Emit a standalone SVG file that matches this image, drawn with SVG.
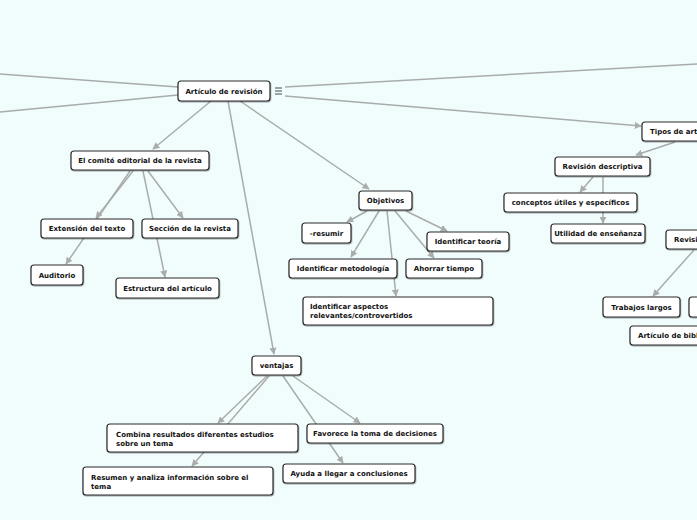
<svg xmlns="http://www.w3.org/2000/svg" width="697" height="520" viewBox="0 0 697 520">
<style>
.bg{fill:#f0fdfc}
.n rect{fill:#fff;stroke:#2a2a2a;stroke-width:1.2}
.n text{font-family:"DejaVu Sans",Verdana,sans-serif;font-size:7px;font-weight:bold;fill:#111}
.c{text-anchor:middle}
.e line{stroke:#a9acab;stroke-width:1.5;fill:none}
.e line.a{marker-end:url(#ah)}
</style>
<defs>
<marker id="ah" viewBox="0 0 10 10" refX="9" refY="5" markerWidth="7" markerHeight="7" markerUnits="userSpaceOnUse" orient="auto">
<path d="M0,0 L10,5 L0,10 z" fill="#a9acab"/>
</marker>
<filter id="sh" x="-10%" y="-20%" width="120%" height="150%">
<feDropShadow dx="0.5" dy="1" stdDeviation="0.6" flood-color="#000" flood-opacity="0.35"/>
</filter>
</defs>
<rect class="bg" x="0" y="0" width="697" height="520"/>

<g id="connectors" class="e">
<line x1="0" y1="74" x2="178" y2="87"/>
<line x1="0" y1="112" x2="178" y2="95"/>
<line x1="285" y1="87" x2="697" y2="64"/>
<line class="a" x1="285" y1="96" x2="641" y2="126"/>
<line class="a" x1="211" y1="101" x2="153" y2="149"/>
<line class="a" x1="240" y1="101" x2="369" y2="189"/>
<line class="a" x1="228" y1="101" x2="274" y2="354"/>
<line class="a" x1="133" y1="171" x2="96" y2="218"/>
<line class="a" x1="130" y1="171" x2="66" y2="264"/>
<line class="a" x1="148" y1="171" x2="183" y2="218"/>
<line class="a" x1="143" y1="171" x2="165" y2="277"/>
<line class="a" x1="367" y1="211" x2="347" y2="222"/>
<line class="a" x1="379" y1="211" x2="351" y2="257"/>
<line class="a" x1="387" y1="211" x2="396" y2="296"/>
<line class="a" x1="395" y1="211" x2="434" y2="258"/>
<line class="a" x1="406" y1="211" x2="447" y2="231"/>
<line class="a" x1="675" y1="142" x2="636" y2="155"/>
<line class="a" x1="593" y1="177" x2="580" y2="192"/>
<line class="a" x1="603" y1="177" x2="603" y2="223"/>
<line class="a" x1="694" y1="250" x2="653" y2="296"/>
<line class="a" x1="267" y1="376" x2="218" y2="423"/>
<line class="a" x1="269" y1="376" x2="192" y2="466"/>
<line class="a" x1="283" y1="376" x2="343" y2="463"/>
<line class="a" x1="293" y1="376" x2="360" y2="423"/>
</g>

<g id="menu-icon" stroke="#333" stroke-width="0.9">
<line x1="275" y1="88" x2="282" y2="88"/>
<line x1="275" y1="91" x2="282" y2="91"/>
<line x1="275" y1="94" x2="282" y2="94"/>
</g>

<g id="n-articulo" class="n"><rect x="178" y="81" width="92" height="20" rx="3" filter="url(#sh)"/><text class="c" x="224" y="93.5">Artículo de revisión</text></g>
<g id="n-comite" class="n"><rect x="71" y="151" width="138" height="19" rx="3" filter="url(#sh)"/><text class="c" x="140" y="163">El comité editorial de la revista</text></g>
<g id="n-extension" class="n"><rect x="41" y="219" width="92" height="19" rx="3" filter="url(#sh)"/><text class="c" x="87" y="231">Extensión del texto</text></g>
<g id="n-seccion" class="n"><rect x="142" y="219" width="96" height="19" rx="3" filter="url(#sh)"/><text class="c" x="190" y="231">Sección de la revista</text></g>
<g id="n-auditorio" class="n"><rect x="31" y="265" width="52" height="20" rx="3" filter="url(#sh)"/><text class="c" x="57" y="277.5">Auditorio</text></g>
<g id="n-estructura" class="n"><rect x="116" y="278" width="103" height="20" rx="3" filter="url(#sh)"/><text class="c" x="167.5" y="290.5">Estructura del artículo</text></g>

<g id="n-objetivos" class="n"><rect x="359" y="191" width="53" height="19" rx="3" filter="url(#sh)"/><text class="c" x="385.5" y="203">Objetivos</text></g>
<g id="n-resumir" class="n"><rect x="302" y="223" width="49" height="20" rx="3" filter="url(#sh)"/><text class="c" x="326.5" y="235.5">-resumir</text></g>
<g id="n-teoria" class="n"><rect x="427" y="232" width="82" height="19" rx="3" filter="url(#sh)"/><text class="c" x="468" y="244">Identificar teoría</text></g>
<g id="n-metodologia" class="n"><rect x="289" y="259" width="108" height="19" rx="3" filter="url(#sh)"/><text class="c" x="343" y="271">Identificar metodología</text></g>
<g id="n-ahorrar" class="n"><rect x="406" y="259" width="76" height="19" rx="3" filter="url(#sh)"/><text class="c" x="444" y="271">Ahorrar tiempo</text></g>
<g id="n-aspectos" class="n"><rect x="303" y="297" width="190" height="28" rx="3" filter="url(#sh)"/><text x="310" y="309">Identificar aspectos</text><text x="310" y="318">relevantes/controvertidos</text></g>

<g id="n-tipos" class="n"><rect x="642" y="122" width="90" height="19" rx="3" filter="url(#sh)"/><text x="650" y="134">Tipos de art</text></g>
<g id="n-descriptiva" class="n"><rect x="555" y="157" width="95" height="19" rx="3" filter="url(#sh)"/><text class="c" x="602.5" y="169">Revisión descriptiva</text></g>
<g id="n-conceptos" class="n"><rect x="504" y="193" width="133" height="19" rx="3" filter="url(#sh)"/><text class="c" x="570.5" y="205">conceptos útiles y específicos</text></g>
<g id="n-utilidad" class="n"><rect x="551" y="224" width="94" height="19" rx="3" filter="url(#sh)"/><text class="c" x="598" y="236">Utilidad de enseñanza</text></g>
<g id="n-revisi" class="n"><rect x="666" y="230" width="90" height="19" rx="3" filter="url(#sh)"/><text x="674" y="242">Revisi</text></g>
<g id="n-trabajos" class="n"><rect x="603" y="297" width="77" height="20" rx="3" filter="url(#sh)"/><text class="c" x="641.5" y="309.5">Trabajos largos</text></g>
<g id="n-offright" class="n"><rect x="689" y="297" width="60" height="20" rx="3" filter="url(#sh)"/></g>
<g id="n-bibl" class="n"><rect x="630" y="326" width="110" height="19" rx="3" filter="url(#sh)"/><text x="638" y="338">Artículo de bibl</text></g>

<g id="n-ventajas" class="n"><rect x="252" y="356" width="49" height="19" rx="3" filter="url(#sh)"/><text class="c" x="276.5" y="368">ventajas</text></g>
<g id="n-combina" class="n"><rect x="107" y="424" width="191" height="28" rx="3" filter="url(#sh)"/><text x="116" y="436.5">Combina resultados diferentes estudios</text><text x="116" y="445.5">sobre un tema</text></g>
<g id="n-favorece" class="n"><rect x="307" y="424" width="136" height="19" rx="3" filter="url(#sh)"/><text class="c" x="375" y="436">Favorece la toma de decisiones</text></g>
<g id="n-resumen" class="n"><rect x="83" y="467" width="190" height="28" rx="3" filter="url(#sh)"/><text x="91" y="479.5">Resumen y analiza información sobre el</text><text x="91" y="488.5">tema</text></g>
<g id="n-ayuda" class="n"><rect x="283" y="464" width="132" height="19" rx="3" filter="url(#sh)"/><text class="c" x="349" y="476">Ayuda a llegar a conclusiones</text></g>
</svg>
